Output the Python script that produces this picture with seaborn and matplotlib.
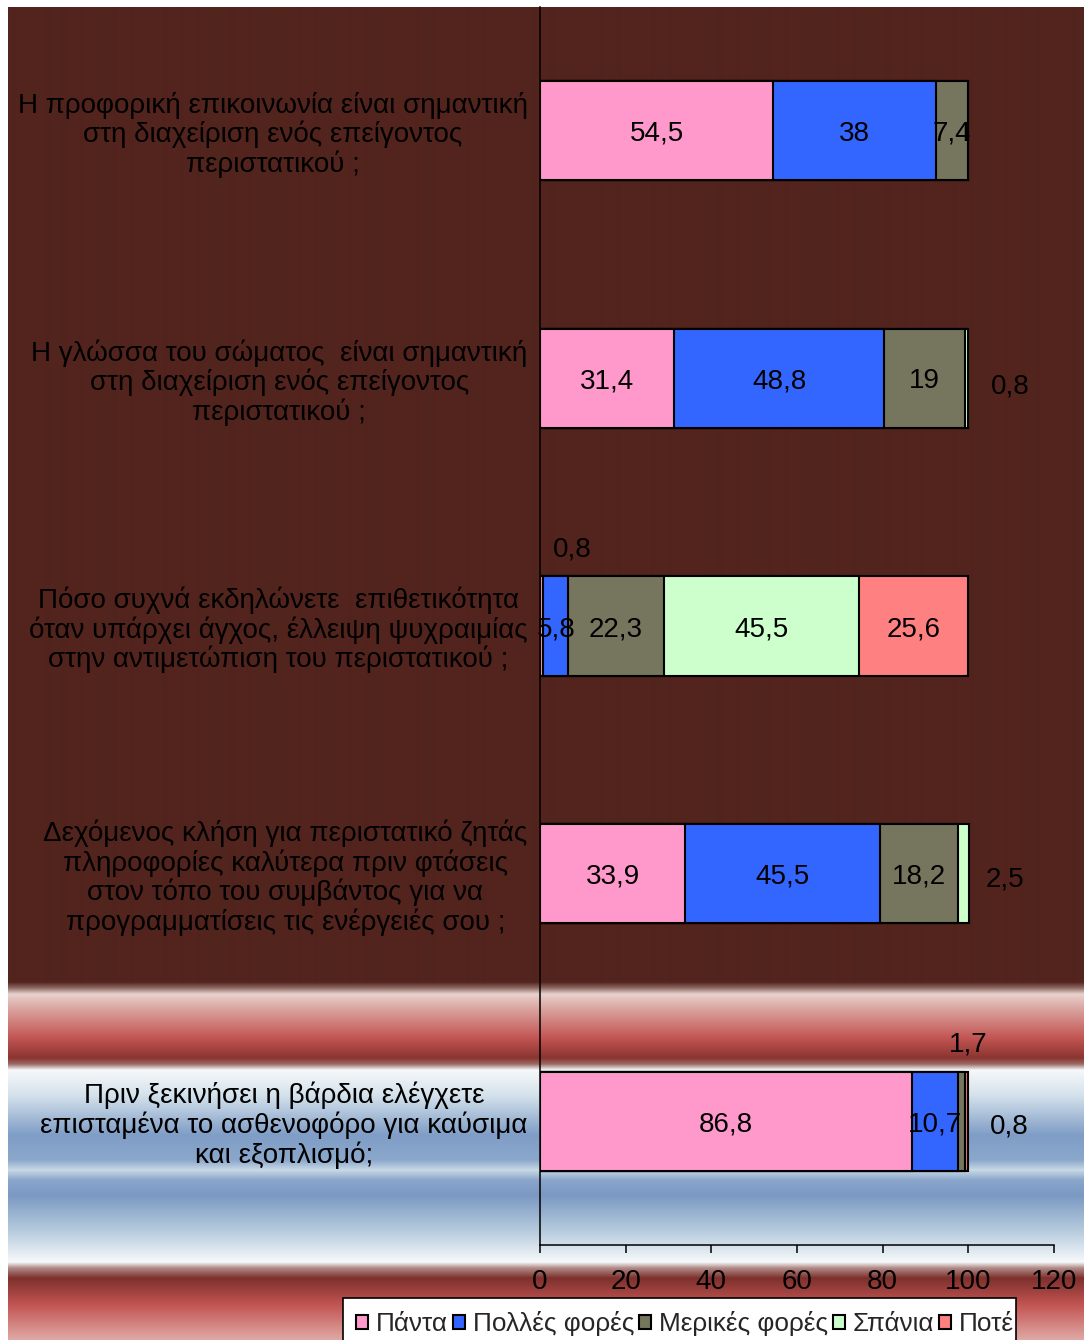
import numpy as np
import pandas as pd
import matplotlib
matplotlib.use("Agg")
import matplotlib.pyplot as plt
from matplotlib.colors import to_rgb
from matplotlib.patches import Patch, Rectangle
from matplotlib.transforms import Bbox, TransformedBbox
import seaborn as sns

# ---- survey data (percent of respondents) ----
questions = [
    "Η προφορική επικοινωνία είναι σημαντική\nστη διαχείριση ενός επείγοντος\nπεριστατικού ;",
    "Η γλώσσα του σώματος  είναι σημαντική\nστη διαχείριση ενός επείγοντος\nπεριστατικού ;",
    "Πόσο συχνά εκδηλώνετε  επιθετικότητα\nόταν υπάρχει άγχος, έλλειψη ψυχραιμίας\nστην αντιμετώπιση του περιστατικού ;",
    "Δεχόμενος κλήση για περιστατικό ζητάς\nπληροφορίες καλύτερα πριν φτάσεις\nστον τόπο του συμβάντος για να\nπρογραμματίσεις τις ενέργειές σου ;",
    "Πριν ξεκινήσει η βάρδια ελέγχετε\nεπισταμένα το ασθενοφόρο για καύσιμα\nκαι εξοπλισμό;",
]
responses = ["Πάντα", "Πολλές φορές", "Μερικές φορές", "Σπάνια", "Ποτέ"]
always = [54.5, 31.4, 0.8, 33.9, 86.8]
often = [38, 48.8, 5.8, 45.5, 10.7]
sometimes = [7.4, 19, 22.3, 18.2, 1.7]
rarely = [0, 0.8, 45.5, 2.5, 0]
never = [0, 0, 25.6, 0, 0.8]
x_ticks = [0, 20, 40, 60, 80, 100, 120]

# ---- styling ----
colors = {
    "Πάντα": "#FF99CC",
    "Πολλές φορές": "#3366FF",
    "Μερικές φορές": "#76765E",
    "Σπάνια": "#CCFFCC",
    "Ποτέ": "#FF8080",
}
FS = 20
LEG_FS = 18.8
W, H = 1084, 1340

# labels of thin segments sit outside the bar: (row, series) -> (x, y offset)
outside_labels = {
    (1, 3): (109.8, 0.02),
    (2, 0): (7.5, -0.32),
    (3, 3): (108.5, 0.01),
    (4, 2): (100.0, -0.32),
    (4, 4): (109.5, 0.01),
}

# background bands: (pixel row, colour)
bg_stops = [
    (7, "#52241D"), (982, "#52241D"), (988, "#8E6A64"), (994, "#E8D2CE"),
    (1010, "#D9A09C"), (1038, "#C25553"), (1058, "#8B3530"), (1064, "#9A6A66"),
    (1070, "#F6F8FA"), (1095, "#D5E2EC"), (1135, "#7F9DC6"), (1160, "#8BA7CB"),
    (1170, "#C9D9E6"), (1180, "#8AA6CB"), (1195, "#7A98C2"), (1230, "#B5CADD"),
    (1262, "#F7F9FB"), (1268, "#B08A86"), (1278, "#7E302C"), (1305, "#C25553"),
    (1340, "#E0AAA6"),
]

sns.set_style("ticks")
plt.rcParams["font.family"] = ["Liberation Sans", "DejaVu Sans"]

fig = plt.figure(figsize=(W / 100, H / 100), dpi=100, facecolor="white")

# figure-wide background fill
bg = fig.add_axes([0, 0, 1, 1], zorder=-10)
sy = np.array([s[0] for s in bg_stops], float)
sc = np.array([to_rgb(s[1]) for s in bg_stops])
rows = np.arange(7, H) + 0.5
grad = np.stack([np.interp(rows, sy, sc[:, k]) for k in range(3)], axis=-1)[:, None, :]
bg.imshow(grad, aspect="auto", extent=[8, W, H, 7], interpolation="bilinear")
bg.set_xlim(0, W)
bg.set_ylim(H, 0)
bg.axis("off")

ax = fig.add_axes([540 / W, 1 - 1245 / H, (1054 - 540) / W, (1245 - 7) / H], zorder=1)
ax.patch.set_visible(False)

df = pd.DataFrame({
    "question": questions,
    "Πάντα": always,
    "Πολλές φορές": often,
    "Μερικές φορές": sometimes,
    "Σπάνια": rarely,
    "Ποτέ": never,
})
cum = df[responses].cumsum(axis=1)
cum["question"] = questions

# stacked bars: draw running totals from the last series back to the first
for resp in reversed(responses):
    sns.barplot(data=cum, x=resp, y="question", orient="h", color=colors[resp],
                saturation=1, width=0.4, edgecolor="black", linewidth=1.5,
                errorbar=None, ax=ax)

# value labels
for i in range(len(questions)):
    left = 0.0
    for j, resp in enumerate(responses):
        v = df.loc[i, resp]
        if v > 0:
            txt = f"{v:g}".replace(".", ",")
            if (i, j) in outside_labels:
                lx, dy = outside_labels[(i, j)]
                ax.text(lx, i + dy, txt, ha="center", va="center_baseline",
                        fontsize=FS, color="black", zorder=5)
            else:
                ax.text(left + v / 2, i, txt, ha="center", va="center_baseline",
                        fontsize=FS, color="black", zorder=5)
        left += v

ax.set_xlim(0, 120)
ax.set_xticks(x_ticks)
ax.set_xticklabels([str(t) for t in x_ticks])
ax.set_xlabel("")
ax.set_ylabel("")
ax.tick_params(axis="x", direction="out", length=6, width=1.1, color="black",
               labelsize=FS, labelcolor="black", pad=11)
ax.tick_params(axis="y", length=0, labelsize=FS, labelcolor="black", pad=9)
for lab in ax.get_yticklabels():
    lab.set_multialignment("center")
    lab.set_linespacing(1.1)
for side in ("top", "right"):
    ax.spines[side].set_visible(False)
for side in ("left", "bottom"):
    ax.spines[side].set_color("black")
    ax.spines[side].set_linewidth(1.1)

# legend box with a fixed width; entries run past its right edge and are cut
box_left, box_right, box_top = 343, 1016, 1298
fig.patches.append(Rectangle((box_left / W, -0.02), (box_right - box_left) / W,
                             0.02 + 1 - box_top / H, transform=fig.transFigure,
                             facecolor="white", edgecolor="black", linewidth=1.2,
                             zorder=3))
handles = [Patch(facecolor=colors[r], edgecolor="black", linewidth=1.5) for r in responses]
leg = fig.legend(handles, responses, loc="upper left",
                 bbox_to_anchor=(351 / W, 1 - (box_top + 8) / H),
                 bbox_transform=fig.transFigure,
                 ncol=5, fontsize=LEG_FS, frameon=False,
                 handlelength=0.45, handleheight=0.45,
                 handletextpad=0.3, columnspacing=0.2, borderpad=0.2,
                 borderaxespad=0)
leg.set_zorder(4)
clip = TransformedBbox(Bbox([[box_left / W, -0.1], [(box_right - 1) / W, 1]]),
                       fig.transFigure)
for t in leg.get_texts():
    t.set_clip_box(clip)
for p in leg.legend_handles:
    p.set_clip_box(clip)

fig.savefig("out.png", dpi=100, facecolor="white")
